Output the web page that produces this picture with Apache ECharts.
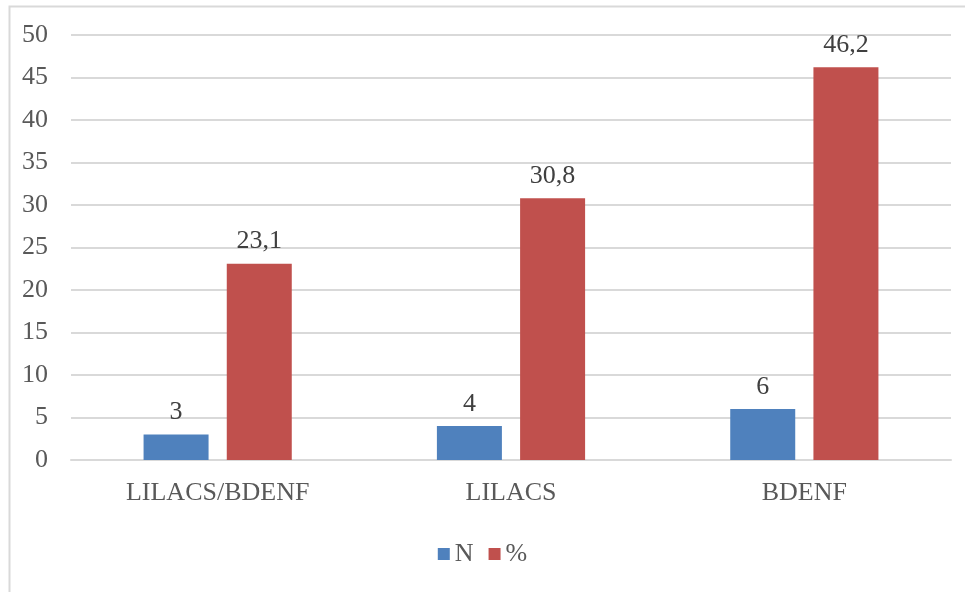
<!DOCTYPE html>
<html><head><meta charset="utf-8">
<script src="https://cdn.jsdelivr.net/npm/echarts@6/dist/echarts.min.js"></script>
<style>html,body{margin:0;padding:0;background:#fff}#c{width:965px;height:592px}</style>
</head><body><div id="c"></div>
<script>
const categories = ['LILACS/BDENF', 'LILACS', 'BDENF'];
const seriesN = [3, 4, 6];
const seriesPct = [23.1, 30.8, 46.2];
const seriesNames = ['N', '%'];
const font = '"Liberation Serif", "Times New Roman", serif';
const chart = echarts.init(document.getElementById('c'), null, {renderer: 'canvas'});
const fmt = p => String(p.value).replace('.', ',');
chart.setOption({
  animation: false,
  backgroundColor: '#fff',
  graphic: [{type: 'rect', shape: {x: 9.5, y: 6.5, width: 970, height: 600}, style: {fill: 'none', stroke: '#d9d9d9', lineWidth: 2}}],
  grid: {left: 71, right: 14, top: 35, bottom: 132, containLabel: false},
  legend: {
    data: seriesNames, bottom: 20, left: 'center', itemWidth: 12, itemHeight: 12, itemGap: 15,
    icon: 'rect', textStyle: {fontFamily: font, fontSize: 26, color: '#595959'}
  },
  xAxis: {
    type: 'category', data: categories,
    axisLine: {lineStyle: {color: '#d9d9d9', width: 2}}, axisTick: {show: false},
    axisLabel: {fontFamily: font, fontSize: 26, color: '#595959', margin: 20}
  },
  yAxis: {
    type: 'value', min: 0, max: 50, interval: 5,
    axisLine: {show: false}, axisTick: {show: false},
    splitLine: {lineStyle: {color: '#d9d9d9', width: 2}},
    axisLabel: {fontFamily: font, fontSize: 26, color: '#595959', margin: 23}
  },
  series: [
    {name: seriesNames[0], type: 'bar', data: seriesN, barWidth: 65, barGap: '28%',
     itemStyle: {color: '#4F81BD'},
     label: {show: true, position: 'top', distance: 9, formatter: fmt, fontFamily: font, fontSize: 26, color: '#404040'}},
    {name: seriesNames[1], type: 'bar', data: seriesPct, barWidth: 65,
     itemStyle: {color: '#C0504D'},
     label: {show: true, position: 'top', distance: 9, formatter: fmt, fontFamily: font, fontSize: 26, color: '#404040'}}
  ]
});
</script></body></html>
